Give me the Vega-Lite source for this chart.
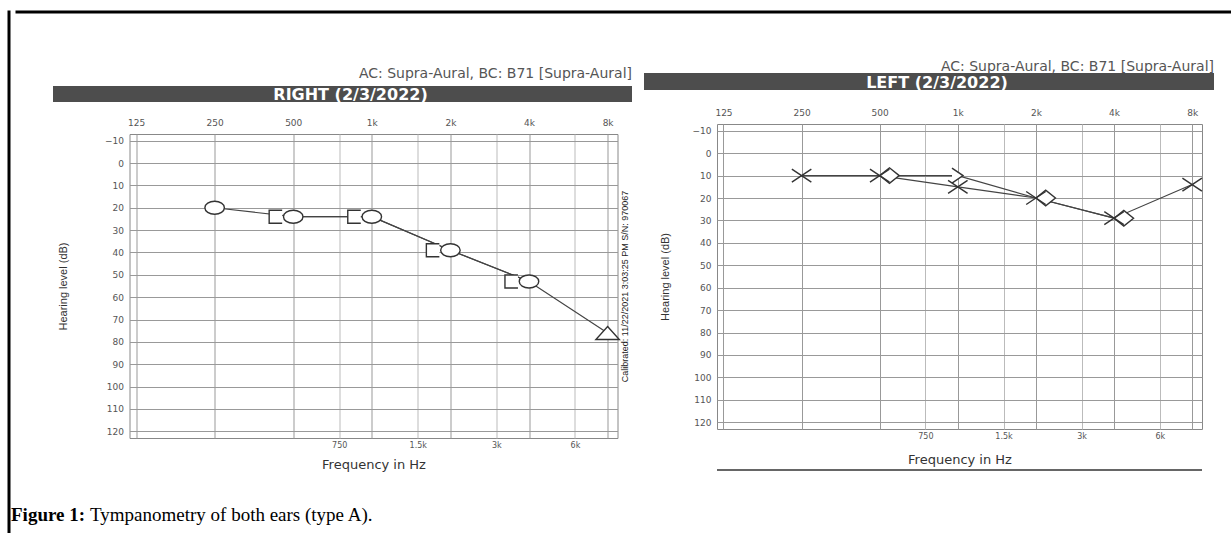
{
  "$schema": "https://vega.github.io/schema/vega-lite/v6.json",
  "background": "white",
  "padding": {"left": 7, "top": 10, "right": 0, "bottom": 0},
  "config": {"view": {"stroke": null}},
  "datasets": {
    "none": [],
    "right": [
      {"freq": 500, "level": 24, "series": "BC", "sym": "lb"},
      {"freq": 1000, "level": 24, "series": "BC", "sym": "lb"},
      {"freq": 2000, "level": 39, "series": "BC", "sym": "lb"},
      {"freq": 4000, "level": 53, "series": "BC", "sym": "lb"},
      {"freq": 250, "level": 20, "series": "AC", "sym": "O"},
      {"freq": 500, "level": 24, "series": "AC", "sym": "O"},
      {"freq": 1000, "level": 24, "series": "AC", "sym": "O"},
      {"freq": 2000, "level": 39, "series": "AC", "sym": "O"},
      {"freq": 4000, "level": 53, "series": "AC", "sym": "O"},
      {"freq": 8000, "level": 76, "series": "AC", "sym": "tri"}
    ],
    "left": [
      {"freq": 500, "level": 10, "series": "BC", "sym": "dia"},
      {"freq": 1000, "level": 10, "series": "BC", "sym": "gt"},
      {"freq": 2000, "level": 20, "series": "BC", "sym": "dia"},
      {"freq": 4000, "level": 29, "series": "BC", "sym": "dia"},
      {"freq": 250, "level": 10, "series": "AC", "sym": "X"},
      {"freq": 500, "level": 10, "series": "AC", "sym": "X"},
      {"freq": 1000, "level": 15, "series": "AC", "sym": "X"},
      {"freq": 2000, "level": 20, "series": "AC", "sym": "X"},
      {"freq": 4000, "level": 29, "series": "AC", "sym": "X"},
      {"freq": 8000, "level": 14, "series": "AC", "sym": "X"}
    ]
  },
  "spacing": 0,
  "hconcat": [
    {
      "width": 0.01, "height": 530,
      "data": {"name": "none"}, "mark": "point",
      "view": {"stroke": "black", "strokeWidth": 3}
    },
    {
      "spacing": 45,
      "vconcat": [
        {
          "width": 1224, "height": 0.01,
          "data": {"name": "none"}, "mark": "point",
          "view": {"stroke": "black", "strokeWidth": 3}
        },
        {
          "spacing": 3,
          "vconcat": [
            {
              "spacing": 12,
              "hconcat": [
                {"width": 23.5, "height": 0.01, "data": {"name": "none"}, "mark": "point"},
                {
                  "spacing": 7,
                  "vconcat": [
                    {"width": 0.01, "height": 0.01, "data": {"name": "none"}, "mark": "point"},
                    {
                      "width": 579, "height": 16,
                      "data": {"values": [{"label": "RIGHT (2/3/2022)"}]},
                      "view": {"fill": "#4d4d4d", "stroke": null},
                      "title": {"text": "AC: Supra-Aural, BC: B71 [Supra-Aural]", "anchor": "end", "font": "DejaVu Sans", "fontSize": 14, "fontWeight": "normal", "color": "#555", "offset": 5},
                      "mark": {"type": "text", "color": "white", "font": "DejaVu Sans", "fontWeight": "bold", "fontSize": 16, "baseline": "middle", "align": "center", "dy": 1, "dx": 8},
                      "encoding": {"text": {"field": "label"}}
                    }
                  ]
                },
                {
                  "spacing": 0,
                  "vconcat": [
                    {"width": 0.01, "height": 0.01, "data": {"name": "none"}, "mark": "point"},
                    {
                      "width": 570, "height": 17,
                      "data": {"values": [{"label": "LEFT (2/3/2022)"}]},
                      "view": {"fill": "#4d4d4d", "stroke": null},
                      "title": {"text": "AC: Supra-Aural, BC: B71 [Supra-Aural]", "anchor": "end", "font": "DejaVu Sans", "fontSize": 14, "fontWeight": "normal", "color": "#555", "offset": -1},
                      "mark": {"type": "text", "color": "white", "font": "DejaVu Sans", "fontWeight": "bold", "fontSize": 16, "baseline": "middle", "align": "center", "dy": 1, "dx": 8},
                      "encoding": {"text": {"field": "label"}}
                    }
                  ]
                }
              ]
            },
            {
              "spacing": 34,
              "vconcat": [
                {
                  "spacing": 27.5,
                  "hconcat": [
                    {"width": 11.5, "height": 0.01, "data": {"name": "none"}, "mark": "point"},
                    {
                      "spacing": 10,
                      "vconcat": [
                        {"width": 0.01, "height": 0.01, "data": {"name": "none"}, "mark": "point"},
                        {
                          "width": 488, "height": 304,
                          "data": {"name": "right"},
                          "view": {"stroke": "#888", "strokeWidth": 1},
                          "resolve": {"axis": {"x": "independent", "y": "independent"}},
                          "layer": [
                            {
                              "mark": {"type": "line", "color": "#444", "strokeWidth": 1.2},
                              "encoding": {
                                "x": {"field": "freq", "type": "quantitative", "scale": {"type": "log", "base": 2, "domain": [118, 8730], "nice": false},
                                  "axis": {"orient": "top", "values": [125, 250, 500, 1000, 2000, 4000, 8000], "labelExpr": "datum.value >= 1000 ? (datum.value/1000) + 'k' : datum.label", "title": null, "domain": false, "ticks": false, "labelPadding": 7, "labelFontSize": 9, "labelFont": "DejaVu Sans", "labelColor": "#555", "grid": true, "gridColor": "#999", "labelFlush": false, "labelOverlap": false}},
                                "y": {"field": "level", "type": "quantitative", "scale": {"domain": [-13, 123], "reverse": true, "nice": false, "zero": false},
                                  "axis": {"orient": "left", "values": [-10, 0, 10, 20, 30, 40, 50, 60, 70, 80, 90, 100, 110, 120], "title": "Hearing level (dB)", "titleFont": "Liberation Sans", "titleFontSize": 11, "titleFontWeight": "normal", "titleColor": "#333", "titlePadding": 36, "labelPadding": 6, "labelFontSize": 9, "labelFont": "DejaVu Sans", "labelColor": "#555", "domain": false, "ticks": false, "grid": true, "gridColor": "#999"}},
                                "detail": {"field": "series"}
                              }
                            },
                            {
                              "mark": {"type": "point", "filled": true, "color": "#333", "fill": "white", "stroke": "#333", "strokeWidth": 1.4, "size": 169, "opacity": 1},
                              "encoding": {
                                "x": {"field": "freq", "type": "quantitative",
                                  "axis": {"orient": "bottom", "values": [750, 1500, 3000, 6000], "labelExpr": "datum.value >= 1000 ? (datum.value/1000) + 'k' : datum.label", "title": "Frequency in Hz", "titleFont": "DejaVu Sans", "titleFontSize": 13, "titleFontWeight": "normal", "titleColor": "#333", "titlePadding": 9, "labelPadding": 3, "labelFontSize": 8, "labelFont": "DejaVu Sans", "labelColor": "#555", "domain": false, "ticks": false, "grid": true, "gridColor": "#bbb", "labelFlush": false}},
                                "y": {"field": "level", "type": "quantitative",
                                  "axis": {"orient": "right", "labels": false, "ticks": false, "domain": false, "grid": false, "title": "Calibrated: 11/22/2021 3:03:25 PM S/N: 970067", "titleAngle": 270, "titleFont": "Liberation Sans", "titleFontSize": 9, "titleFontWeight": "normal", "titleColor": "#222", "titlePadding": 12}},
                                "shape": {"field": "sym", "legend": null, "scale": {"domain": ["O", "tri", "lb", "X", "dia", "gt"], "range": ["M -1.5 0 A 1.5 1 0 1 0 1.5 0 A 1.5 1 0 1 0 -1.5 0 Z", "M 0 -1 L 1.8 1 L -1.8 1 Z", "M -1.7 -1 L -3.7 -1 L -3.7 1 L -1.7 1", "M -1.5 -1 L 1.5 1 M -1.5 1 L 1.5 -1", "M 0 0 L 1.5 -1.2 L 3 0 L 1.5 1.2 Z", "M -0.9 -1.15 L 0.8 0 L -0.9 1.15"]}}
                              }
                            }
                          ]
                        }
                      ]
                    },
                    {
                      "spacing": 0,
                      "vconcat": [
                        {"width": 0.01, "height": 0.01, "data": {"name": "none"}, "mark": "point"},
                        {
                          "width": 485, "height": 305,
                          "data": {"name": "left"},
                          "view": {"stroke": "#888", "strokeWidth": 1},
                          "resolve": {"axis": {"x": "independent", "y": "independent"}},
                          "layer": [
                            {
                              "mark": {"type": "line", "color": "#444", "strokeWidth": 1.2},
                              "encoding": {
                                "x": {"field": "freq", "type": "quantitative", "scale": {"type": "log", "base": 2, "domain": [118, 8730], "nice": false},
                                  "axis": {"orient": "top", "values": [125, 250, 500, 1000, 2000, 4000, 8000], "labelExpr": "datum.value >= 1000 ? (datum.value/1000) + 'k' : datum.label", "title": null, "domain": false, "ticks": false, "labelPadding": 7, "labelFontSize": 9, "labelFont": "DejaVu Sans", "labelColor": "#555", "grid": true, "gridColor": "#999", "labelFlush": false, "labelOverlap": false}},
                                "y": {"field": "level", "type": "quantitative", "scale": {"domain": [-13, 123], "reverse": true, "nice": false, "zero": false},
                                  "axis": {"orient": "left", "values": [-10, 0, 10, 20, 30, 40, 50, 60, 70, 80, 90, 100, 110, 120], "title": "Hearing level (dB)", "titleFont": "Liberation Sans", "titleFontSize": 11, "titleFontWeight": "normal", "titleColor": "#333", "titlePadding": 22, "labelPadding": 6, "labelFontSize": 9, "labelFont": "DejaVu Sans", "labelColor": "#555", "domain": false, "ticks": false, "grid": true, "gridColor": "#999"}},
                                "detail": {"field": "series"}
                              }
                            },
                            {
                              "mark": {"type": "point", "filled": true, "color": "#333", "fill": "white", "stroke": "#333", "strokeWidth": 1.4, "size": 169, "opacity": 1},
                              "encoding": {
                                "x": {"field": "freq", "type": "quantitative",
                                  "axis": {"orient": "bottom", "values": [750, 1500, 3000, 6000], "labelExpr": "datum.value >= 1000 ? (datum.value/1000) + 'k' : datum.label", "title": "Frequency in Hz", "titleFont": "DejaVu Sans", "titleFontSize": 13, "titleFontWeight": "normal", "titleColor": "#333", "titlePadding": 13, "labelPadding": 3, "labelFontSize": 8, "labelFont": "DejaVu Sans", "labelColor": "#555", "domain": false, "ticks": false, "grid": true, "gridColor": "#bbb", "labelFlush": false}},
                                "y": {"field": "level", "type": "quantitative", "axis": null},
                                "shape": {"field": "sym", "legend": null, "scale": {"domain": ["O", "tri", "lb", "X", "dia", "gt"], "range": ["M -1.5 0 A 1.5 1 0 1 0 1.5 0 A 1.5 1 0 1 0 -1.5 0 Z", "M 0 -1 L 1.8 1 L -1.8 1 Z", "M -1.7 -1 L -3.7 -1 L -3.7 1 L -1.7 1", "M -1.5 -1 L 1.5 1 M -1.5 1 L 1.5 -1", "M 0 0 L 1.5 -1.2 L 3 0 L 1.5 1.2 Z", "M -0.9 -1.15 L 0.8 0 L -0.9 1.15"]}}
                              }
                            },
                            {
                              "data": {"values": [{"note": "underline"}]},
                              "mark": {"type": "rule", "color": "#666", "strokeWidth": 2},
                              "encoding": {"y": {"datum": 141.3, "type": "quantitative", "axis": null}}
                            }
                          ]
                        }
                      ]
                    }
                  ]
                },
                {
                  "spacing": 4,
                  "hconcat": [
                    {"width": 0.01, "height": 0.01, "data": {"name": "none"}, "mark": "point",
                     "title": {"text": "Figure 1:", "anchor": "start", "font": "Liberation Serif", "fontSize": 19, "fontWeight": "bold", "color": "black", "offset": 0, "dx": -6}},
                    {"width": 0.01, "height": 0.01, "data": {"name": "none"}, "mark": "point",
                     "title": {"text": "Tympanometry of both ears (type A).", "anchor": "start", "font": "Liberation Serif", "fontSize": 19, "fontWeight": "normal", "color": "black", "offset": 0, "dx": -6}}
                  ]
                }
              ]
            }
          ]
        }
      ]
    }
  ]
}
